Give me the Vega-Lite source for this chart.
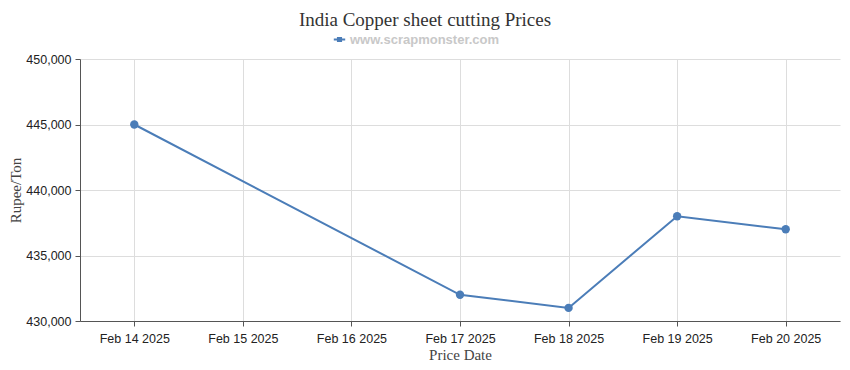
{
  "$schema": "https://vega.github.io/schema/vega-lite/v6.json",
  "width": 760,
  "height": 262,
  "autosize": {"type": "none"},
  "padding": {"left": 80, "top": 59, "right": 10, "bottom": 49},
  "background": "white",
  "title": {
    "text": "India Copper sheet cutting Prices",
    "font": "Liberation Serif",
    "fontSize": 19,
    "fontWeight": "normal",
    "color": "#333333",
    "anchor": "middle",
    "dx": -35,
    "offset": 3
  },
  "data": {
    "values": [
      {"date": "2025-02-14T00:00:00Z", "price": 445000, "source": "www.scrapmonster.com"},
      {"date": "2025-02-17T00:00:00Z", "price": 432000, "source": "www.scrapmonster.com"},
      {"date": "2025-02-18T00:00:00Z", "price": 431000, "source": "www.scrapmonster.com"},
      {"date": "2025-02-19T00:00:00Z", "price": 438000, "source": "www.scrapmonster.com"},
      {"date": "2025-02-20T00:00:00Z", "price": 437000, "source": "www.scrapmonster.com"}
    ]
  },
  "config": {
    "view": {"stroke": null},
    "axis": {
      "labelFont": "Liberation Sans",
      "labelFontSize": 12.5,
      "labelColor": "#222222",
      "titleFont": "Liberation Serif",
      "titleFontSize": 15,
      "titleFontWeight": "normal",
      "titleColor": "#444444",
      "gridColor": "#dddddd",
      "domainColor": "#555555",
      "tickColor": "#555555",
      "tickSize": 5
    }
  },
  "mark": {"type": "line", "point": {"filled": true, "size": 70}, "strokeWidth": 2},
  "encoding": {
    "x": {
      "field": "date",
      "type": "temporal",
      "title": "Price Date",
      "scale": {"type": "utc", "domain": [{"year": 2025, "month": 2, "date": 13, "hours": 12, "utc": true}, {"year": 2025, "month": 2, "date": 20, "hours": 12, "utc": true}], "nice": false},
      "axis": {
        "labelExpr": "utcFormat(datum.value, '%b %d %Y')",
        "tickCount": {"interval": "day", "step": 1},
        "labelPadding": 6,
        "titlePadding": 3,
        "labelFlush": false,
        "labelOverlap": false
      }
    },
    "y": {
      "field": "price",
      "type": "quantitative",
      "title": "Rupee/Ton",
      "scale": {"domain": [430000, 450000], "nice": false, "zero": false},
      "axis": {"values": [430000, 435000, 440000, 445000, 450000], "labelExpr": "format(datum.value, ',')", "labelPadding": 4, "titlePadding": 2}
    },
    "color": {
      "field": "source",
      "type": "nominal",
      "scale": {"range": ["#4b7db8"]},
      "legend": {
        "title": null,
        "orient": "none",
        "legendX": 253,
        "legendY": -26,
        "labelFont": "Liberation Sans",
        "labelFontSize": 13,
        "labelFontWeight": "bold",
        "labelColor": "#c8c8c8",
        "symbolType": "M-1,-0.18L1,-0.18L1,0.18L-1,0.18Z M-0.45,-0.45L0.45,-0.45L0.45,0.45L-0.45,0.45Z",
        "symbolSize": 130,
        "symbolFillColor": "#4b7db8",
        "symbolStrokeWidth": 0,
        "labelOffset": 4
      }
    }
  }
}
